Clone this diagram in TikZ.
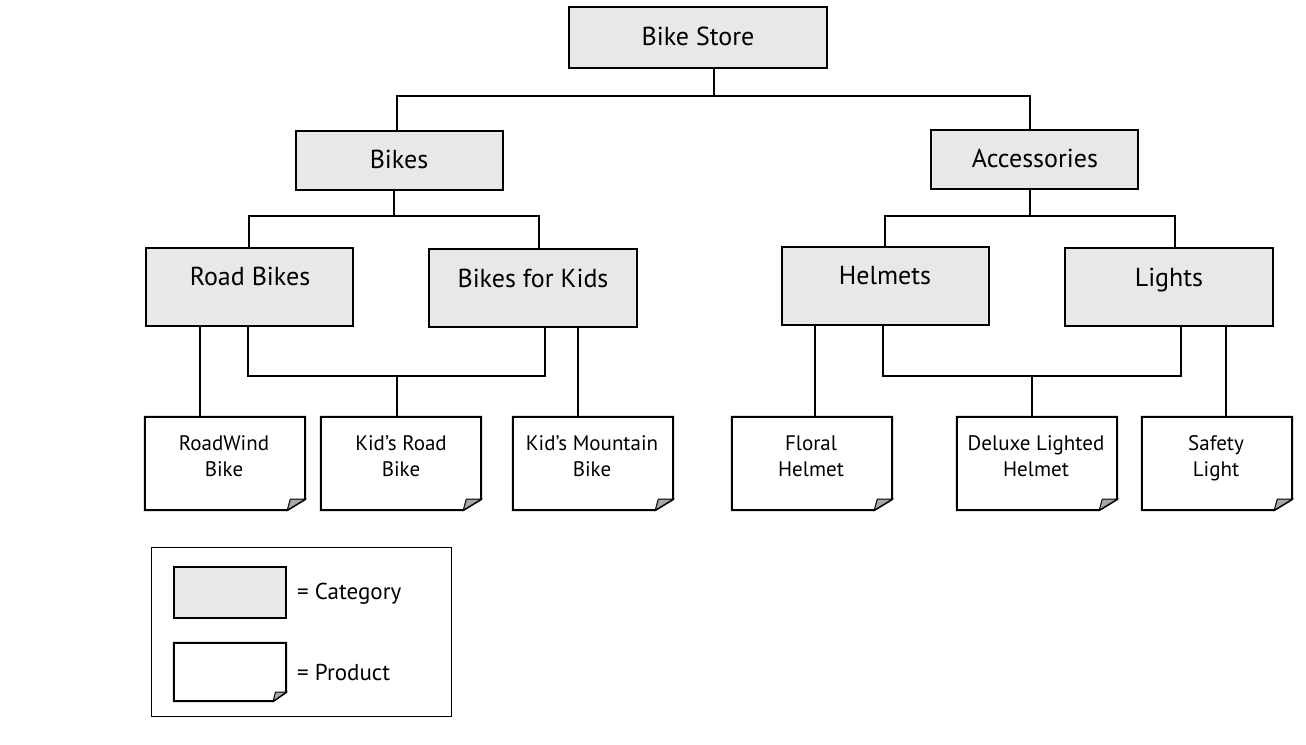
\documentclass[tikz,border=0pt]{standalone}
\usepackage{fontspec}
\setmainfont{PT Sans}
\definecolor{catgray}{HTML}{E8E8E8}
\definecolor{foldgray}{HTML}{A8A8A8}
\newcommand\prodoutline[3]{%
  \draw[boxline] (#1.north west) -- (#1.north east) -- ([yshift=#3pt]#1.south east)
    -- ([xshift=-#2pt]#1.south east) -- (#1.south west) -- cycle;
  \filldraw[foldline] ([yshift=#3pt]#1.south east) -- ([xshift=-#2pt]#1.south east)
    -- ([shift={(-0.83*#2pt,#3pt)}]#1.south east) -- cycle;}
\begin{document}
\begin{tikzpicture}[x=1pt,y=-1pt,
  cat/.style={draw,line width=2pt,fill=catgray,inner sep=0pt},
  prod/.style={inner sep=0pt},
  boxline/.style={line width=2pt,fill=white,line join=miter},
  foldline/.style={line width=1pt,fill=foldgray,draw=black},
  ctext/.style={font=\fontsize{26}{30}\selectfont,anchor=base,inner sep=0pt},
  ptext/.style={font=\fontsize{21}{26}\selectfont,align=center,inner sep=0pt},
  ltext/.style={font=\fontsize{23}{26}\selectfont,anchor=base west,inner sep=0pt},
  conn/.style={line width=2pt}]
\useasboundingbox (0,0) rectangle (1306,744);

% category boxes
\node[cat,minimum width=258pt,minimum height=61pt] (bs) at (698,37.5) {};
\node[cat,minimum width=207pt,minimum height=59pt] (bikes) at (399.5,160.5) {};
\node[cat,minimum width=207pt,minimum height=59pt] (acc) at (1034.5,159.5) {};
\node[cat,minimum width=207pt,minimum height=78pt] (rb) at (249.5,287) {};
\node[cat,minimum width=208pt,minimum height=78pt] (bk) at (533,288) {};
\node[cat,minimum width=207pt,minimum height=78pt] (hel) at (885.5,286) {};
\node[cat,minimum width=208pt,minimum height=78pt] (li) at (1169,287) {};

\node[ctext] (bs-t) at (698,45) {Bike Store};
\node[ctext] (bikes-t) at (399,168) {Bikes};
\node[ctext] (acc-t) at (1035,167) {Accessories};
\node[ctext] (rb-t) at (250,285) {Road Bikes};
\node[ctext] (bk-t) at (533,287) {Bikes for Kids};
\node[ctext] (hel-t) at (885,284) {Helmets};
\node[ctext] (li-t) at (1169,286) {Lights};

% product boxes
\node[prod,minimum width=160pt,minimum height=93pt] (p1) at (225,463.5) {};
\node[prod,minimum width=160pt,minimum height=93pt] (p2) at (401,463.5) {};
\node[prod,minimum width=160pt,minimum height=93pt] (p3) at (593,463.5) {};
\node[prod,minimum width=160pt,minimum height=93pt] (p4) at (812,463.5) {};
\node[prod,minimum width=160pt,minimum height=93pt] (p5) at (1037,463.5) {};
\node[prod,minimum width=150pt,minimum height=93pt] (p6) at (1217,463.5) {};
\foreach \p in {p1,p2,p3,p4,p5,p6} {\prodoutline{\p}{18}{11}}

\node[ptext] (p1-t) at (224,458) {\strut RoadWind\\\strut Bike};
\node[ptext] (p2-t) at (401,458) {\strut Kid’s Road\\\strut Bike};
\node[ptext] (p3-t) at (592,458) {\strut Kid’s Mountain\\\strut Bike};
\node[ptext] (p4-t) at (811,458) {\strut Floral\\\strut Helmet};
\node[ptext] (p5-t) at (1036,458) {\strut Deluxe Lighted\\\strut Helmet};
\node[ptext] (p6-t) at (1216,458) {\strut Safety\\\strut Light};

% connectors
\coordinate (j1) at (714,96);
\coordinate (j2) at (394,216);
\coordinate (j3) at (397,376);
\coordinate (j4) at (1030,216);
\coordinate (j5) at (1032,376);
\draw[conn] (bs.south -| j1) -- (j1);
\draw[conn] ([xshift=-2.5pt]bikes.north) |- (j1) -| ([xshift=-4.5pt]acc.north);
\draw[conn] (bikes.south -| j2) -- (j2);
\draw[conn] ([xshift=-0.5pt]rb.north) |- (j2) -| ([xshift=6pt]bk.north);
\draw[conn] (acc.south -| j4) -- (j4);
\draw[conn] ([xshift=-0.5pt]hel.north) |- (j4) -| ([xshift=6pt]li.north);

\path ([xshift=-49.5pt]rb.south) coordinate (rb-a)
      ([xshift=-1.5pt]rb.south) coordinate (rb-b)
      ([xshift=12pt]bk.south) coordinate (bk-a)
      ([xshift=45pt]bk.south) coordinate (bk-b)
      ([xshift=-70.5pt]hel.south) coordinate (hel-a)
      ([xshift=-2.5pt]hel.south) coordinate (hel-b)
      ([xshift=12pt]li.south) coordinate (li-a)
      ([xshift=57pt]li.south) coordinate (li-b);
\draw[conn] (rb-a) -- (rb-a |- p1.north);
\draw[conn] (rb-b) |- (j3) -| (bk-a);
\draw[conn] (j3) -- (j3 |- p2.north);
\draw[conn] (bk-b) -- (bk-b |- p3.north);
\draw[conn] (hel-a) -- (hel-a |- p4.north);
\draw[conn] (hel-b) |- (j5) -| (li-a);
\draw[conn] (j5) -- (j5 |- p5.north);
\draw[conn] (li-b) -- (li-b |- p6.north);

% legend
\node[draw,line width=1pt,minimum width=300pt,minimum height=169pt,inner sep=0pt] (leg) at (301,631.5) {};
\node[cat,minimum width=112pt,minimum height=51pt] (lcat) at (230,592.5) {};
\node[prod,minimum width=112pt,minimum height=58pt] (lprod) at (230,672) {};
\prodoutline{lprod}{13}{9}
\node[ltext] (lcat-t) at (297,599) {= Category};
\node[ltext] (lprod-t) at (297,680) {= Product};
\end{tikzpicture}
\end{document}
